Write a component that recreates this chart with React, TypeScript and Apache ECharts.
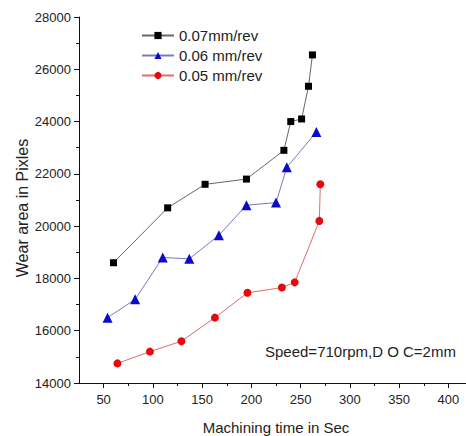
import React, { useEffect, useRef } from "react";
import * as echarts from "echarts";

const seriesNames = ["0.07mm/rev", "0.06 mm/rev", "0.05 mm/rev"];
const time007 = [60, 115, 153, 195, 233, 240, 251, 258, 262];
const wear007 = [18600, 20700, 21600, 21800, 22900, 24000, 24100, 25350, 26550];
const time006 = [54, 82, 110, 137, 167, 195, 225, 236, 266];
const wear006 = [16500, 17200, 18800, 18750, 19650, 20800, 20900, 22250, 23600];
const time005 = [64, 97, 129, 163, 196, 231, 244, 269, 270];
const wear005 = [14750, 15200, 15600, 16500, 17450, 17650, 17850, 20200, 21600];
const xMajorTicks = [50, 100, 150, 200, 250, 300, 350, 400];
const xMinorTicks = [75, 125, 175, 225, 275, 325, 375];

const zip = (xs: number[], ys: number[]) => xs.map((x, i) => [x, ys[i]]);

export default function App() {
  const ref = useRef<HTMLDivElement>(null);
  useEffect(() => {
    if (!ref.current) return;
    const chart = echarts.init(ref.current, undefined, { renderer: "svg" });
    const font = "Liberation Sans, Arial, sans-serif";
    const txt = "#222";
    chart.setOption({
      animation: false,
      backgroundColor: "#fff",
      textStyle: { fontFamily: font },
      grid: { left: 79, top: 17, height: 366, width: 394, containLabel: false, outerBoundsMode: "none" },
      legend: {
        orient: "vertical",
        left: 136,
        top: 23,
        itemGap: 5,
        itemWidth: 32,
        itemHeight: 9,
        textStyle: { fontSize: 15, color: txt, fontFamily: font },
        data: seriesNames,
      },
      xAxis: [
        {
          type: "value",
          min: 25,
          max: 425,
          axisLine: { show: true, lineStyle: { color: "#111", width: 1 } },
          axisTick: { show: true, length: 5, customValues: xMajorTicks, lineStyle: { color: "#111" } },
          axisLabel: { customValues: xMajorTicks, fontSize: 13, color: txt, margin: 10 },
          splitLine: { show: false },
        },
        {
          type: "value",
          min: 25,
          max: 425,
          position: "bottom",
          axisLine: { show: false },
          axisTick: { show: true, length: 3, customValues: xMinorTicks, lineStyle: { color: "#111" } },
          axisLabel: { show: false },
          splitLine: { show: false },
        },
      ],
      yAxis: {
        type: "value",
        min: 14000,
        max: 28000,
        interval: 2000,
        axisLine: { show: true, lineStyle: { color: "#111", width: 1 } },
        axisTick: { show: true, length: 5, lineStyle: { color: "#111" } },
        minorTick: { show: true, splitNumber: 2, length: 3, lineStyle: { color: "#111" } },
        axisLabel: { fontSize: 13, color: txt, margin: 8, formatter: (v: number) => String(v) },
        splitLine: { show: false },
      },
      series: [
        {
          name: seriesNames[0],
          type: "line",
          data: zip(time007, wear007),
          symbol: "rect",
          symbolSize: 7,
          itemStyle: { color: "#000" },
          lineStyle: { color: "#666", width: 1 },
        },
        {
          name: seriesNames[1],
          type: "line",
          data: zip(time006, wear006),
          symbol: "triangle",
          symbolSize: 10,
          itemStyle: { color: "#0a0ac8" },
          lineStyle: { color: "#7a7ac0", width: 1 },
        },
        {
          name: seriesNames[2],
          type: "line",
          data: zip(time005, wear005),
          symbol: "circle",
          symbolSize: 8,
          itemStyle: { color: "#e80a0a" },
          lineStyle: { color: "#d87070", width: 1 },
        },
      ],
      graphic: [
        {
          type: "text",
          left: 265,
          top: 344,
          style: { text: "Speed=710rpm,D O C=2mm", fontSize: 15, fill: txt, fontFamily: font },
        },
        {
          type: "text",
          x: 276,
          y: 427,
          style: {
            text: "Machining time in Sec",
            fontSize: 15,
            fill: txt,
            fontFamily: font,
            align: "center",
            verticalAlign: "middle",
          },
        },
        {
          type: "text",
          x: 22,
          y: 208,
          rotation: Math.PI / 2,
          style: {
            text: "Wear area in Pixles",
            fontSize: 16,
            fill: txt,
            fontFamily: font,
            align: "center",
            verticalAlign: "middle",
          },
        },
      ],
    });
    return () => chart.dispose();
  }, []);
  return (
    <div style={{ position: "fixed", left: 0, top: 0, width: 466, height: 436, overflow: "hidden" }}>
      <div ref={ref} style={{ width: 466, height: 436 }} />
    </div>
  );
}
